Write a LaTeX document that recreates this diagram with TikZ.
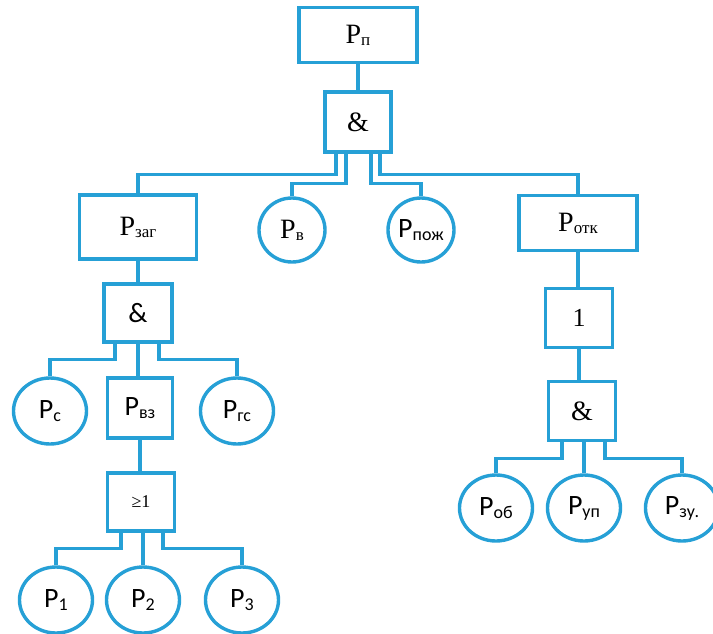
\documentclass[tikz,border=0pt]{standalone}
\usepackage{fontspec}
\setmainfont{Liberation Serif}
\newfontfamily\sansf{Carlito}
\usetikzlibrary{shapes.geometric}
\definecolor{lineblue}{RGB}{38,160,214}
\newcommand{\Pser}[1]{{\fontsize{28}{28}\selectfont P}\raisebox{-2pt}{\fontsize{17}{17}\selectfont #1}}
\newcommand{\Psan}[1]{{\sansf\fontsize{28}{28}\selectfont P\raisebox{-3pt}{\fontsize{18}{18}\selectfont #1}}}
\tikzset{
  conn/.style={draw=lineblue, line width=3.4pt},
  rbox/.style={draw=lineblue, line width=3.4pt, rectangle, inner sep=0pt, fill=white},
  ebox/.style={draw=lineblue, line width=3.4pt, ellipse, inner sep=0pt, minimum width=73pt, minimum height=66pt, fill=white},
}
\begin{document}
\begin{tikzpicture}[x=1pt,y=-1pt]
\useasboundingbox (0,0) rectangle (713,633);
% nodes
\node[rbox, minimum width=118pt, minimum height=55pt] (pp) at (358,35) {\Pser{п}};
\node[rbox, minimum width=66pt, minimum height=60pt] (and1) at (358,122) {\fontsize{28}{28}\selectfont\&};
\node[rbox, minimum width=117pt, minimum height=64pt] (zag) at (138,227) {\Pser{заг}};
\node[ebox, minimum width=66pt, minimum height=64pt] (pv) at (292,230) {\Pser{в}};
\node[ebox, minimum width=66pt, minimum height=64pt] (pozh) at (421,230) {\Psan{пож}};
\node[rbox, minimum width=118pt, minimum height=55pt] (otk) at (578,223) {\Pser{отк}};
\node[rbox, minimum width=67pt, minimum height=59pt] (one) at (579,318) {\fontsize{26}{26}\selectfont 1};
\node[rbox, minimum width=67pt, minimum height=59pt] (and3) at (582,411) {\fontsize{28}{28}\selectfont\&};
\node[rbox, minimum width=68pt, minimum height=58pt] (and2) at (138,313) {\sansf\fontsize{28}{28}\selectfont\&};
\node[ebox] (pc) at (50,411) {\Psan{с}};
\node[rbox, minimum width=65pt, minimum height=60pt] (pvz) at (140,408) {\Psan{вз}};
\node[ebox] (pgs) at (237,411) {\Psan{гс}};
\node[rbox, minimum width=67pt, minimum height=58pt] (ge) at (141,502) {\fontsize{18}{18}\selectfont ≥1};
\node[ebox] (p1) at (56,600) {\Psan{1}};
\node[ebox] (p2) at (143,600) {\Psan{2}};
\node[ebox] (p3) at (242,600) {\Psan{3}};
\node[ebox] (pob) at (496,508) {\Psan{об}};
\node[ebox] (pup) at (584,508) {\Psan{уп}};
\node[ebox] (pzu) at (682,508) {\Psan{зу.}};
% connectors
\draw[conn] (pp.south) -- (and1.north);
\draw[conn] ([xshift=-22pt]and1.south) -- ++(0,21) -| (zag.north);
\draw[conn] ([xshift=-12pt]and1.south) -- ++(0,30) -| (pv.north);
\draw[conn] ([xshift=13pt]and1.south) -- ++(0,30) -| (pozh.north);
\draw[conn] ([xshift=22pt]and1.south) -- ++(0,21) -| (otk.north);
\draw[conn] (zag.south) -- (and2.north);
\draw[conn] ([xshift=-23pt]and2.south) -- ++(0,16) -| (pc.north);
\draw[conn] (and2.south) -- (and2.south |- pvz.north);
\draw[conn] ([xshift=21pt]and2.south) -- ++(0,16) -| (pgs.north);
\draw[conn] (pvz.south) -- (pvz.south |- ge.north);
\draw[conn] ([xshift=-20pt]ge.south) -- ++(0,16) -| (p1.north);
\draw[conn] (p2.north |- ge.south) -- (p2.north);
\draw[conn] ([xshift=22pt]ge.south) -- ++(0,16) -| (p3.north);
\draw[conn] (otk.south) -- (otk.south |- one.north);
\draw[conn] (one.south) -- (one.south |- and3.north);
\draw[conn] ([xshift=-20pt]and3.south) -- ++(0,16) -| (pob.north);
\draw[conn] (pup.north |- and3.south) -- (pup.north);
\draw[conn] ([xshift=23pt]and3.south) -- ++(0,16) -| (pzu.north);
\end{tikzpicture}
\end{document}
